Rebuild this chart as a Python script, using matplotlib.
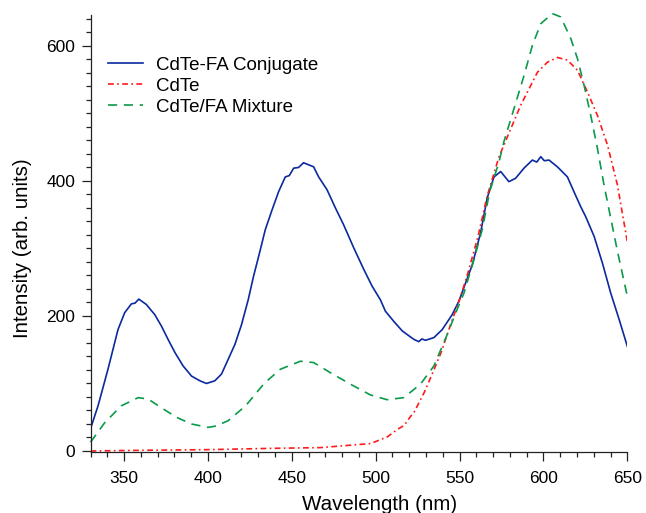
import numpy as np
import matplotlib
matplotlib.use("Agg")
import matplotlib.pyplot as plt
from matplotlib.ticker import MultipleLocator

plt.rcParams["font.family"] = ["Liberation Sans", "DejaVu Sans"]

# CdTe-FA conjugate (blue, solid)
conj_wl = [330, 334.5, 340.4, 346.4, 350.4, 354.4, 356.5, 358.8, 363.3, 368.3, 372.3,
           376.3, 380.3, 385.2, 390.2, 395.2, 399.1, 404.1, 408.1, 412.1, 416.1,
           420, 424, 427.2, 430.2, 434.2, 438.2, 442.1, 446.1, 448.5, 451.1, 454,
           457, 460, 463, 466, 471, 476, 480.9, 486.9, 492.9, 497.9, 502.8, 505.8,
           510.8, 515.8, 520.7, 523, 525.7, 527.5, 529.7, 534.7, 539.7, 545.6,
           549.6, 553.6, 557.6, 562.5, 566.5, 570.5, 574.5, 579.4, 583.4, 588.4,
           593.4, 596, 598.4, 600.5, 603.3, 608.3, 614.3, 618.2, 622.2, 625.2,
           630.2, 635.2, 640.1, 645.1, 650]
conj_int = [33, 67, 121, 180, 205, 218, 219, 225, 217, 202, 185,
            165, 146, 126, 111, 104, 100, 104, 114, 136, 158,
            187, 224, 259, 288, 328, 357, 384, 406, 408, 419, 420,
            427, 424, 421, 406, 387, 360, 335, 301, 269, 244, 224, 207,
            192, 178, 169, 165, 162, 166, 164, 168, 180, 202,
            222, 249, 276, 323, 375, 406, 414, 399, 404, 419,
            431, 428, 436, 430, 431, 421, 406, 384, 362, 347,
            318, 278, 234, 195, 155]

# CdTe (red, dash-dot)
cdte_wl = [330, 360, 400, 440, 467, 487, 497, 502, 507, 513, 517, 521, 523, 529,
           534, 539, 545, 550, 555, 561, 566.5, 573.5, 576.4, 586.4, 596.4, 602.4,
           608.3, 614.3, 620.3, 626.2, 632.2, 638.2, 644.1, 650]
cdte_int = [0, 1, 2, 4, 5, 9, 11, 16, 21, 32, 38, 52, 58, 87,
            116, 146, 190, 224, 264, 318, 378, 436, 453, 512, 561, 576,
            583, 579, 564, 532, 497, 453, 394, 310]

# CdTe/FA mixture (green, dashed)
mix_wl = [330, 338.5, 348.4, 358.4, 364.3, 372.3, 381.2, 390.2, 400.1, 405, 412.1,
          422.5, 433.5, 443.1, 455.1, 463, 473, 484.9, 496.9, 506.8, 516.7,
          526.7, 534.7, 542.7, 548.6, 552.6, 558.5, 563.5, 568, 573.5, 576.4,
          582.4, 588.4, 593.4, 598.4, 605.3, 610.3, 616.3, 620.3, 624.2, 628.2,
          632.2, 636.1, 640.1, 644.1, 650]
mix_int = [13, 42, 67, 79, 77, 64, 50, 40, 35, 37, 45,
           67, 100, 121, 133, 131, 116, 99, 83, 76, 79,
           99, 126, 173, 210, 234, 283, 328, 385, 428, 458,
           507, 556, 601, 633, 648, 643, 611, 581, 542, 497,
           448, 394, 345, 296, 229]

fig = plt.figure(figsize=(6.46, 5.13), dpi=100)
ax = fig.add_axes([0.1401, 0.1189, 0.831, 0.852])

ax.plot(conj_wl, conj_int, color="#0a2a9e", lw=1.2, label="CdTe-FA Conjugate")
ax.plot(cdte_wl, cdte_int, color="#ff1a1a", lw=1.2, ls=(0, (3.5, 2, 1, 2)),
        label="CdTe")
ax.plot(mix_wl, mix_int, color="#0a9a4a", lw=1.2, ls=(0, (5.5, 4)),
        label="CdTe/FA Mixture", clip_on=False)

ax.set_xlim(330, 650)
ax.set_ylim(-1.5, 646)
ax.xaxis.set_major_locator(MultipleLocator(50))
ax.xaxis.set_minor_locator(MultipleLocator(10))
ax.yaxis.set_major_locator(MultipleLocator(200))
ax.yaxis.set_minor_locator(MultipleLocator(20))

for s in ("top", "right"):
    ax.spines[s].set_visible(False)
for s in ("left", "bottom"):
    ax.spines[s].set_linewidth(0.9)
    ax.spines[s].set_color("#222222")

ax.tick_params(which="major", direction="out", length=6.5, width=0.9,
               labelsize=12.5, color="#222222")
ax.tick_params(which="minor", direction="out", length=3.8, width=0.9,
               color="#222222")
ax.tick_params(axis="x", which="major", pad=7)
ax.tick_params(axis="y", which="major", pad=4.5)

ax.set_xlabel("Wavelength (nm)", fontsize=14.8)
ax.set_ylabel("Intensity (arb. units)", fontsize=14.8)
ax.xaxis.set_label_coords(0.539, -0.0985)
ax.yaxis.set_label_coords(-0.109, 0.466)

ax.legend(loc="upper left", bbox_to_anchor=(0.011, 0.93), frameon=False,
          fontsize=13.5, handlelength=1.9, handletextpad=0.7, labelspacing=0.2,
          borderaxespad=0.2)

plt.savefig("out.png", dpi=100)
